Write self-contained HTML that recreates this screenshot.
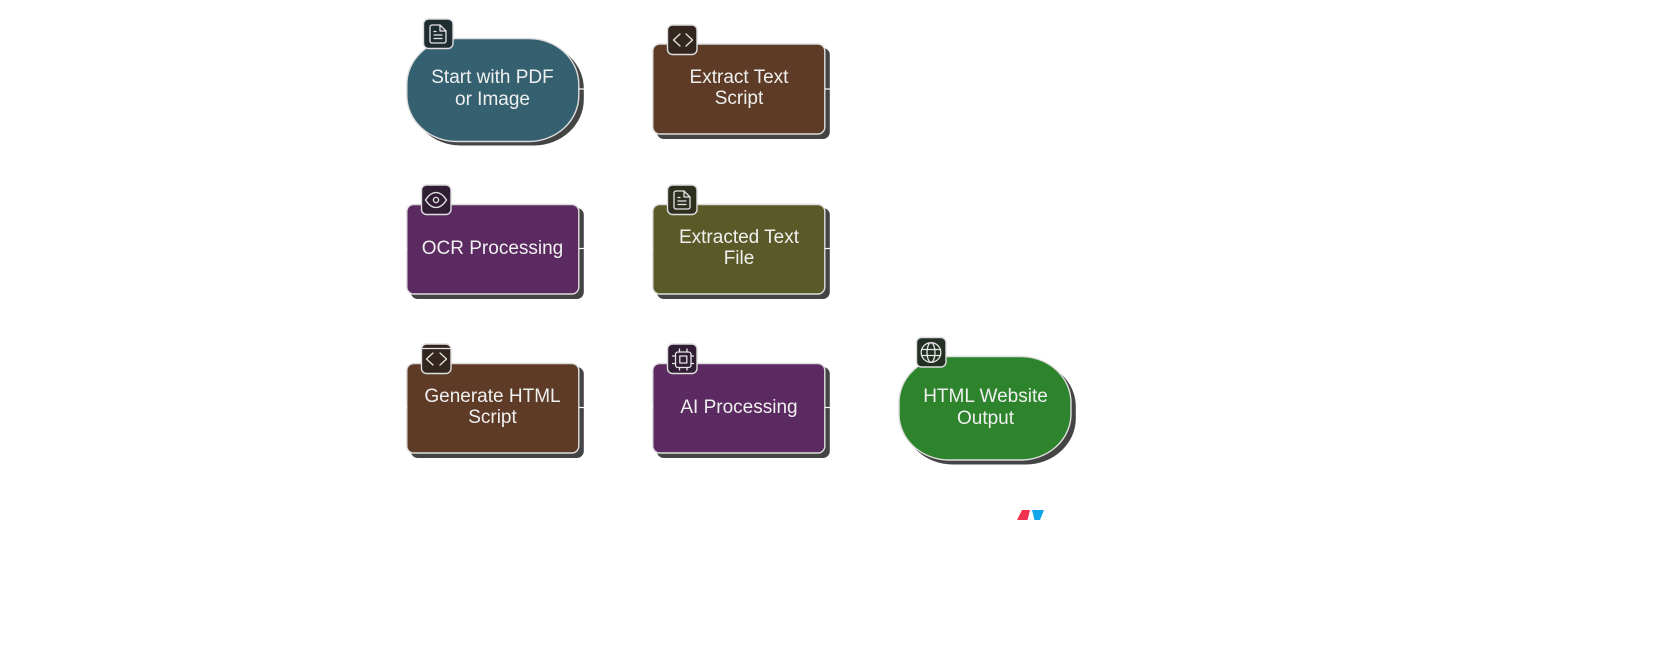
<!DOCTYPE html>
<html><head><meta charset="utf-8"><style>
html,body{margin:0;padding:0;background:#fff;width:1663px;height:649px;overflow:hidden}
svg{display:block}
text{font-family:"Liberation Sans",sans-serif;font-size:19px;fill:#f0f0f0;text-anchor:middle}
.i{fill:none;stroke:#e6e6e6;stroke-width:1.3;stroke-linecap:round;stroke-linejoin:round}
.b{stroke:#dedede;stroke-width:1.4}
</style></head><body>
<svg width="1663" height="649" viewBox="0 0 1663 649">
<!-- shadows -->
<g fill="#444">
<rect x="410.8" y="42.500" width="173" height="103" rx="50" ry="46"/>
<rect x="656.800" y="48" width="173" height="91" rx="7"/>
<rect x="410.800" y="208" width="173" height="91" rx="7"/>
<rect x="656.800" y="208" width="173" height="91" rx="7"/>
<rect x="410.800" y="367" width="173" height="91" rx="7"/>
<rect x="656.800" y="367" width="173" height="91" rx="7"/>
<rect x="902.800" y="360.500" width="173" height="104" rx="50" ry="46"/>
</g>
<!-- nodes -->
<rect class="b" x="406.800" y="38.500" width="172" height="103" rx="50" ry="46" fill="#35606f"/>
<rect class="b" x="652.800" y="44" width="172" height="90" rx="7" fill="#5e3b26"/>
<rect class="b" x="406.800" y="204.500" width="172" height="89.500" rx="7" fill="#5b2a60"/>
<rect class="b" x="652.800" y="204.500" width="172" height="89.500" rx="7" fill="#5a5a28"/>
<rect class="b" x="406.800" y="363.500" width="172" height="89.500" rx="7" fill="#5e3b26"/>
<rect class="b" x="652.800" y="363.500" width="172" height="89.500" rx="7" fill="#5b2a60"/>
<rect class="b" x="899" y="356.500" width="172" height="103.500" rx="50" ry="46" fill="#2e842c"/>
<!-- connector stubs -->
<g stroke="#fff" stroke-width="1.2">
<path d="M579 89H585"/><path d="M825 89H831"/>
<path d="M579 248.500H585"/><path d="M825 248.500H831"/>
<path d="M579 407.500H585"/><path d="M825 407.500H831"/>
<path d="M404 248.500H407"/><path d="M650 248.500H653"/><path d="M404 407.500H407"/><path d="M650 407.500H653"/>
</g>
<!-- labels -->
<text x="492.500" y="83">Start with PDF</text><text x="492.500" y="105">or Image</text>
<text x="739" y="83">Extract Text</text><text x="739" y="104">Script</text>
<text x="492.500" y="254">OCR Processing</text>
<text x="739" y="243">Extracted Text</text><text x="739" y="264">File</text>
<text x="492.500" y="402">Generate HTML</text><text x="492.500" y="423">Script</text>
<text x="739" y="413">AI Processing</text>
<text x="985.500" y="402">HTML Website</text><text x="985.500" y="424">Output</text>
<!-- icon badges -->
<rect class="b" x="423.500" y="19" width="29.500" height="29.500" rx="5" fill="#1f2d33"/>
<rect class="b" x="667.500" y="25" width="29.500" height="29.500" rx="5" fill="#33261f"/>
<rect class="b" x="421.500" y="185" width="29.500" height="29.500" rx="5" fill="#311e35"/>
<rect class="b" x="667.500" y="185" width="29.500" height="29.500" rx="5" fill="#2f2f1f"/>
<rect class="b" x="421.500" y="344" width="29.500" height="29.500" rx="5" fill="#33261f"/>
<rect class="b" x="667.500" y="344" width="29.500" height="29.500" rx="5" fill="#311e35"/>
<rect class="b" x="916.500" y="337.500" width="29.500" height="29.500" rx="5" fill="#222f22"/>
<path d="M421 348.500H451" stroke="#e6e6e6" stroke-width="1.300"/>
<!-- doc icon 1 -->
<g class="i" transform="translate(430,25)"><path d="M0 2a2 2 0 0 1 2-2H10L16 6V16a2 2 0 0 1-2 2H2a2 2 0 0 1-2-2Z"/><path d="M10 0V6H16M4 6.500H6M4 10H12M4 13.500H12"/></g>
<!-- doc icon 2 -->
<g class="i" transform="translate(674,191)"><path d="M0 2a2 2 0 0 1 2-2H10L16 6V16a2 2 0 0 1-2 2H2a2 2 0 0 1-2-2Z"/><path d="M10 0V6H16M4 6.500H6M4 10H12M4 13.500H12"/></g>
<!-- code icons -->
<path class="i" d="M680 34L673.500 40L680 46M686 34L692.500 40L686 46"/>
<path class="i" d="M433 353L426.500 359L433 365M440 353L446.500 359L440 365"/>
<!-- eye -->
<g class="i"><path d="M425.500 200C429 194.500 432.500 192.500 436 192.500C439.500 192.500 443 194.500 446.500 200C443 205.500 439.500 207.500 436 207.500C432.500 207.500 429 205.500 425.500 200Z"/><circle cx="436" cy="200" r="2.600"/></g>
<!-- cpu -->
<g class="i"><rect x="675.500" y="352" width="15.500" height="15.500" rx="2.500"/><rect x="679.800" y="356" width="7" height="7"/><path d="M679.500 349V352M687 349V352M679.500 367.500V370M687 370V367.500M672.500 356H675.500M672.500 363.500H675.500M691 356H693.500M691 363.500H693.500"/></g>
<!-- globe -->
<g class="i"><circle cx="931" cy="352.500" r="9.800"/><ellipse cx="931" cy="352.500" rx="4" ry="9.800"/><path d="M921.500 349.500H940.500M921.500 355.500H940.500"/></g>
<!-- logo -->
<path d="M1022 510H1030L1027.500 520H1017Z" fill="#ef3350"/>
<path d="M1032 510H1044L1040 520H1034.500Z" fill="#0ea5e9"/>
</svg>
</body></html>
